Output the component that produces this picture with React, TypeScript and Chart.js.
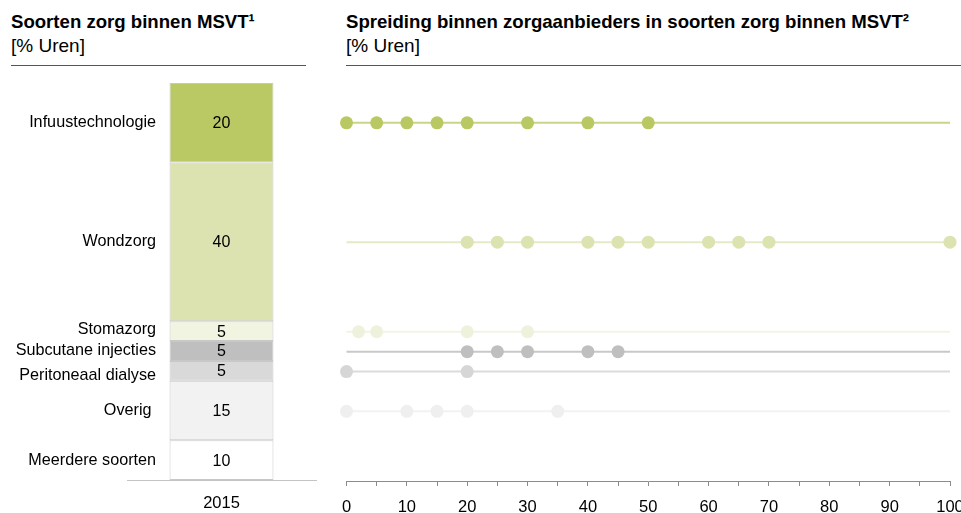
import React, { useEffect, useRef } from 'react';
import { Chart, registerables } from 'chart.js';

Chart.register(...registerables);

// ---- data ----
const categories = [
  'Infuustechnologie',
  'Wondzorg',
  'Stomazorg',
  'Subcutane injecties',
  'Peritoneaal dialyse',
  'Overig ',
  'Meerdere soorten',
];
const shares = [20, 40, 5, 5, 5, 15, 10];
const yearLabels = ['2015'];

const infuusPoints = [0, 5, 10, 15, 20, 30, 40, 50];
const wondzorgPoints = [20, 25, 30, 40, 45, 50, 60, 65, 70, 100];
const stomaPoints = [2, 5, 20, 30];
const subcutanePoints = [20, 25, 30, 40, 45];
const peritoneaalPoints = [0, 20];
const overigPoints = [0, 10, 15, 20, 35];
const meerderePoints: number[] = [];

const spreadPoints = [
  infuusPoints,
  wondzorgPoints,
  stomaPoints,
  subcutanePoints,
  peritoneaalPoints,
  overigPoints,
  meerderePoints,
];

// ---- styles ----
const FONT = '"Liberation Sans", Arial, Helvetica, sans-serif';
const barColors = ['#bbc964', '#dce3b0', '#f0f4e1', '#bfbfbf', '#d9d9d9', '#f2f2f2', '#ffffff'];
const dotColors = ['#bac863', '#dce3b1', '#eef2dc', '#bfbfbf', '#d6d6d6', '#efefef', '#ffffff'];
const lineColors = ['#c9d487', '#e5eac6', '#f1f4e3', '#c8c8c8', '#dbdbdb', '#f2f2f2', '#ffffff'];
const labelNudge = [0, 0, -2, 0, 5, 0, 0];

function rowMidpoints(): number[] {
  const mids: number[] = [];
  let cum = 0;
  shares.forEach((s) => {
    mids.push(cum + s / 2);
    cum += s;
  });
  return mids;
}

const leftLabelsPlugin = {
  id: 'leftLabels',
  afterDatasetsDraw(chart: any) {
    const ctx = chart.ctx;
    ctx.save();
    ctx.fillStyle = '#000';
    ctx.textBaseline = 'middle';
    categories.forEach((cat, i) => {
      const el: any = chart.getDatasetMeta(i).data[0];
      if (!el) return;
      const y = (el.y + el.base) / 2;
      ctx.font = `16px ${FONT}`;
      ctx.textAlign = 'center';
      ctx.fillText(String(shares[i]), el.x, y + 1);
      ctx.font = `16.2px ${FONT}`;
      ctx.textAlign = 'right';
      ctx.fillText(cat, el.x - el.width / 2 - 13.5, y + labelNudge[i]);
    });
    ctx.restore();
  },
};

export default function App() {
  const leftRef = useRef<HTMLCanvasElement | null>(null);
  const rightRef = useRef<HTMLCanvasElement | null>(null);

  useEffect(() => {
    const left = new Chart(leftRef.current as HTMLCanvasElement, {
      type: 'bar',
      data: {
        labels: yearLabels,
        datasets: categories.map((c, i) => ({
          label: c,
          data: [shares[i]],
          backgroundColor: barColors[i],
          borderColor: '#c8c8c8',
          borderWidth: 1,
          borderSkipped: false,
          barPercentage: 0.55,
          categoryPercentage: 1,
        })),
      },
      options: {
        responsive: false,
        devicePixelRatio: 1,
        animation: false,
        layout: { padding: { left: 127, right: 24, top: 83, bottom: 0 } },
        plugins: { legend: { display: false }, tooltip: { enabled: false } },
        scales: {
          x: {
            stacked: true,
            grid: { display: false, drawTicks: false },
            border: { display: true, color: '#c4c4c4', width: 1 },
            ticks: { color: '#000', font: { family: FONT, size: 16.5 }, padding: 14 },
            afterFit: (s: any) => {
              s.height = 33;
              s.paddingLeft = 0;
              s.paddingRight = 0;
            },
          },
          y: { stacked: true, min: 0, max: 100, reverse: true, display: false },
        },
      },
      plugins: [leftLabelsPlugin],
    } as any);

    const mids = rowMidpoints();
    const datasets: any[] = [];
    spreadPoints.forEach((pts, i) => {
      if (!pts.length) return;
      datasets.push({
        type: 'line',
        data: [
          { x: 0, y: mids[i] },
          { x: 100, y: mids[i] },
        ],
        borderColor: lineColors[i],
        borderWidth: 2,
        pointRadius: 0,
        clip: false,
        order: 2,
      });
      datasets.push({
        type: 'scatter',
        data: pts.map((x) => ({ x, y: mids[i] })),
        backgroundColor: dotColors[i],
        borderWidth: 0,
        pointRadius: 6.5,
        clip: false,
        order: 1,
      });
    });

    const right = new Chart(rightRef.current as HTMLCanvasElement, {
      type: 'scatter',
      data: { datasets },
      options: {
        responsive: false,
        devicePixelRatio: 1,
        animation: false,
        layout: { padding: { left: 16.5, right: 11, top: 83, bottom: 0 } },
        plugins: { legend: { display: false }, tooltip: { enabled: false } },
        scales: {
          x: {
            type: 'linear',
            min: 0,
            max: 100,
            grid: { display: true, drawOnChartArea: false, drawTicks: true, tickLength: 5, color: '#8c8c8c' },
            border: { display: true, color: '#8c8c8c', width: 1 },
            ticks: {
              stepSize: 5,
              autoSkip: false,
              maxRotation: 0,
              color: '#000',
              font: { family: FONT, size: 16.5 },
              padding: 12,
              callback: (v: any) => (Number(v) % 10 === 0 ? String(v) : ''),
            },
            afterFit: (s: any) => {
              s.height = 32;
              s.paddingLeft = 0;
              s.paddingRight = 0;
            },
          },
          y: { type: 'linear', min: 0, max: 100, reverse: true, display: false },
        },
      },
    } as any);

    return () => {
      left.destroy();
      right.destroy();
    };
  }, []);

  const titleStyle: React.CSSProperties = {
    position: 'absolute',
    fontFamily: FONT,
    fontWeight: 'bold',
    fontSize: 18.6,
    lineHeight: '20px',
    color: '#000',
    whiteSpace: 'nowrap',
  };
  const subStyle: React.CSSProperties = {
    position: 'absolute',
    fontFamily: FONT,
    fontSize: 19,
    lineHeight: '20px',
    color: '#000',
    whiteSpace: 'nowrap',
  };

  return (
    <div
      style={{
        position: 'fixed',
        left: 0,
        top: 0,
        width: 961,
        height: 513,
        background: '#fff',
        overflow: 'hidden',
      }}
    >
      <div style={{ ...titleStyle, left: 11, top: 12 }}>Soorten zorg binnen MSVT¹</div>
      <div style={{ ...subStyle, left: 11, top: 36 }}>[% Uren]</div>
      <div style={{ position: 'absolute', left: 11, top: 65, width: 295, height: 1, background: '#555' }} />

      <div style={{ ...titleStyle, left: 346, top: 12 }}>
        Spreiding binnen zorgaanbieders in soorten zorg binnen MSVT²
      </div>
      <div style={{ ...subStyle, left: 346, top: 36 }}>[% Uren]</div>
      <div style={{ position: 'absolute', left: 346, top: 65, width: 615, height: 1, background: '#555' }} />

      <canvas
        ref={leftRef}
        width={340}
        height={513}
        style={{ position: 'absolute', left: 0, top: 0, width: 340, height: 513 }}
      />
      <canvas
        ref={rightRef}
        width={631}
        height={513}
        style={{ position: 'absolute', left: 330, top: 0, width: 631, height: 513 }}
      />
    </div>
  );
}
